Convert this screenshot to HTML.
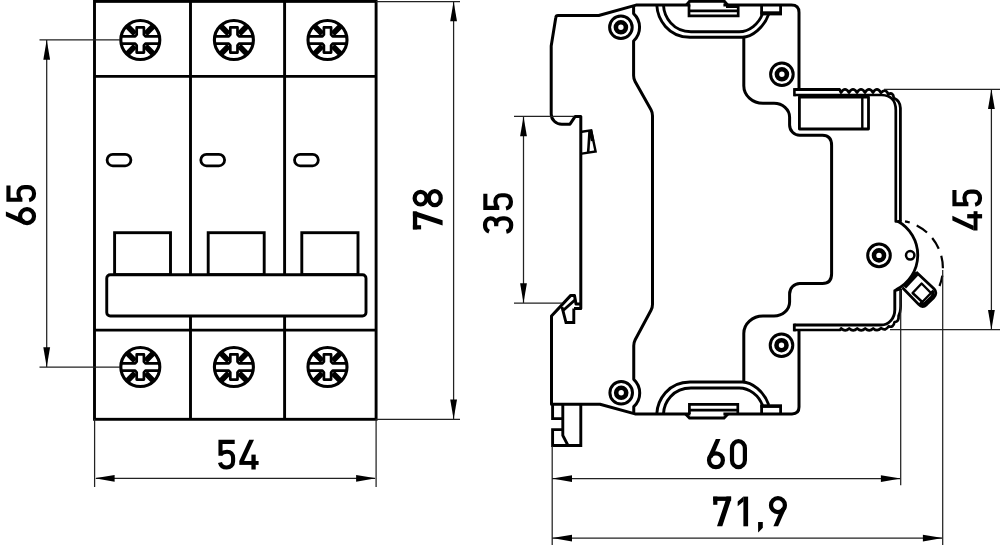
<!DOCTYPE html>
<html><head><meta charset="utf-8">
<style>
html,body{margin:0;padding:0;background:#fff;}
body{width:1000px;height:545px;overflow:hidden;}
svg{display:block;}
text{font-family:"Liberation Sans",sans-serif;font-size:41.6px;fill:#000;stroke:#000;stroke-width:0.9;stroke-linejoin:round;text-rendering:geometricPrecision;text-anchor:middle;}
svg{will-change:transform;}
</style></head><body>
<svg width="1000" height="545" viewBox="0 0 1000 545">
<rect width="1000" height="545" fill="#fff"/>
<defs>
<g id="screw" fill="none" stroke="#000">
<circle r="19.5" stroke-width="3.1"/>
<path d="M-19,-3.7H-5.1L-3.6,-5.3V-12.6H3.6V-5.3L5.1,-3.7H19 M-19,3.7H-5.1L-3.6,5.3V12.6H3.6V5.3L5.1,3.7H19" stroke-width="2.7" stroke-linejoin="round"/>
<path d="M-5.2,-6L-13.6,-14.4 M5.2,-6L13.6,-14.4 M-5.2,6L-13.6,14.4 M5.2,6L13.6,14.4" stroke-width="5.6"/>
</g>
<g id="bolt" fill="none" stroke="#000">
<circle r="11.3" stroke-width="3"/>
<circle r="5" stroke-width="4.6"/>
</g>
<path id="arr" d="M0,0L-3.4,19.8H3.4Z" fill="#000" stroke="none"/>

<!-- DIN-like digits: origin = ink left / baseline, y up negative -->
<g id="d0" fill="none" stroke="#000" stroke-width="4.2"><rect x="2.1" y="-28.1" width="12.9" height="26" rx="6.45" ry="6.9"/></g>
<g id="d6"><circle cx="9.05" cy="-9.05" r="6.95" fill="none" stroke="#000" stroke-width="4.2"/><path d="M8.9,-30.2H13.6L5.6,-11.6L0.8,-12Z" fill="#000"/></g>
<g id="d9"><use href="#d6" transform="translate(18.1,-30.2) rotate(180)"/></g>
<g id="d5" fill="none" stroke="#000" stroke-width="4.1" stroke-linejoin="miter"><path d="M16.7,-27.65H2.5V-13.7"/><path d="M2.6,-15.4C4.4,-17 6.8,-17.7 9,-17.7C12.8,-17.7 15.1,-15.2 15.1,-11.4V-8.2C15.1,-4.6 12.6,-2.05 8.7,-2.05C5.2,-2.05 2.7,-3.8 2,-7"/></g>
<g id="d4" fill="#000"><path d="M9.9,-29.7H14.7L4.8,-8.4H0Z"/><rect x="0" y="-8.5" width="19.3" height="3.9"/><rect x="12.1" y="-14.9" width="4.3" height="14.9"/></g>
<g id="d7" fill="#000"><rect x="0" y="-29.7" width="17.9" height="4.3"/><rect x="0" y="-29.7" width="4.2" height="8.2"/><path d="M13.2,-29.7H17.9V-26.8L9.1,0H3.8L12.7,-26.5Z"/></g>
<g id="d1" fill="#000"><rect x="5.7" y="-29.7" width="4.7" height="29.7"/><path d="M0,-24.9L5.8,-29.7V-24.9L0,-20Z"/></g>
<g id="d8" fill="none" stroke="#000" stroke-width="4.2"><ellipse cx="9.05" cy="-22.2" rx="6.35" ry="5.95"/><ellipse cx="9.05" cy="-8" rx="6.95" ry="5.95"/></g>
<g id="d3" fill="none" stroke="#000" stroke-width="4.2"><path d="M2,-24.2C3,-26.9 5.6,-28.3 8.6,-28.3C12.5,-28.3 15.2,-26 15.2,-22.8C15.2,-19.5 12.8,-17.1 9.5,-17.1H7.4M9.5,-17.1C13,-17.1 15.2,-14.4 15.2,-10.4V-8.8C15.2,-4.8 12.6,-2.1 8.6,-2.1C5.2,-2.1 2.6,-3.8 1.9,-7"/></g>
<g id="dc" fill="#000"><path d="M0,-4.2H4.7V1.5L0.4,6H0Z"/></g>
</defs>

<!-- LEFT VIEW -->
<g fill="none" stroke="#000" stroke-width="2.9" stroke-linejoin="miter">
<rect x="94.5" y="1.4" width="281.6" height="417.9"/>
<path d="M94.5,76.4H376 M94.5,330.1H376"/>
<path d="M190.5,1.4V274.7 M284.6,1.4V274.7 M190.5,316V419.3 M284.6,316V419.3"/>
<rect x="114.6" y="232.7" width="55.9" height="42"/>
<rect x="208.2" y="232.7" width="56" height="42"/>
<rect x="301.8" y="232.7" width="56.2" height="42"/>
<rect x="106.75" y="274.75" width="259.25" height="41.3" rx="3.5" fill="#fff"/>
<rect x="107.1" y="154.4" width="23.8" height="11.4" rx="5.7" stroke-width="2.8"/>
<rect x="200.8" y="154.4" width="23.8" height="11.4" rx="5.7" stroke-width="2.8"/>
<rect x="294.5" y="154.4" width="23.8" height="11.4" rx="5.7" stroke-width="2.8"/>
</g>
<use href="#screw" x="140.3" y="40"/>
<use href="#screw" x="233.9" y="40"/>
<use href="#screw" x="327.5" y="40"/>
<use href="#screw" x="140.3" y="367"/>
<use href="#screw" x="233.9" y="367"/>
<use href="#screw" x="327.5" y="367"/>

<!-- left dims -->
<g fill="none" stroke="#222" stroke-width="1.25">
<path d="M39.5,39.9H120 M39.5,367H120 M46.7,40V367"/>
<path d="M376,1.5H460 M376,419.3H460 M453.6,2V419"/>
<path d="M94.6,419V487 M376.1,419V487 M96,478.3H375"/>
</g>
<use href="#arr" x="46.7" y="40"/>
<use href="#arr" transform="translate(46.7,367) rotate(180)"/>
<use href="#arr" x="453.6" y="1.5"/>
<use href="#arr" transform="translate(453.6,419.3) rotate(180)"/>
<use href="#arr" transform="translate(94.8,478.3) rotate(-90)"/>
<use href="#arr" transform="translate(375.9,478.3) rotate(90)"/>


<!-- RIGHT VIEW -->
<g id="rv" fill="none" stroke="#000" stroke-width="3" stroke-linejoin="round" stroke-linecap="butt">
<!-- outer body -->
<path d="M799,90V12.6Q799,5.1 791.4,5.1H636L598.75,15.5H558Q556,15.5 555.8,17.5L551.2,46V114A10.6,10.2 0 0 0 561.8,124.2H570L575.2,116.4H580.8V308.6H574"/>
<path d="M580,304H576L574.5,295.4H570.8L551.5,316V404.2H600L635,413.9H792Q799,413.9 799,407V330"/>
<!-- inner left contour -->
<path d="M633.6,5V13.6A18.7,18.7 0 0 1 633.6,41V75.5Q633.6,78.75 635.1,81.5L651,109.8Q652.5,112.5 652.5,115.8V304.2Q652.5,307.5 651,310.3L635.2,339.8Q633.75,342.5 633.75,345.8V379.3A18.7,18.7 0 0 1 633.75,406.7V413.7"/>
<!-- inner right contour -->
<path d="M743.8,37.5V85.6A19.2,17.6 0 0 0 763,103.3H774A15.6,14 0 0 1 789.6,117.3V125A10.1,10.3 0 0 0 799.7,135.3H822.5Q831.6,135.3 831.6,145.5V273.8Q831.6,283.5 822.5,283.5H799.7A10.1,10.5 0 0 0 789.6,294V302A15.6,14 0 0 1 774,316H763A19.2,17.4 0 0 0 743.8,333.4V382"/>
</g>

<g fill="none" stroke="#000" stroke-width="2.9" stroke-linejoin="round">
<!-- top U -->
<path d="M656.8,5.3C657.5,19 668,37.3 690,37.3H742.4C752,37.3 764,27.5 768.8,14"/>
<path d="M663.5,5.3C664,17 673,31.7 691,31.7H739.2C749,31.7 759,24 762.6,13.4"/>
<!-- bottom U -->
<path d="M656.8,413.7C657.5,400 668,382 690,382H742.4C752,382 764,391.5 768.8,405"/>
<path d="M663.5,413.7C664,402 673,388 691,388H739.2C749,388 759,395 762.6,405.8"/>
</g>
<g fill="none" stroke="#000" stroke-width="2.6" stroke-linejoin="miter">
<!-- small rects -->
<path d="M761.6,5.2V13.2H780.6V5.2" stroke-width="2.8"/>
<path d="M760.4,13.4H782" stroke-width="4"/>
<path d="M761.6,414V406.4H780.6V414" stroke-width="2.8"/>
<path d="M760.4,406H782" stroke-width="3.4"/>
<!-- top clip -->
<rect x="690.4" y="2.4" width="33" height="7" fill="#fff" stroke="none"/>
<path d="M689,5.2V15.8H738.2V5.2 M689,10.8H738.2" stroke-width="2.7"/>
<path d="M726,6.8H738.2" stroke-width="2.4"/>
<path d="M686.3,5.2L689.7,1.2H724.2L727.8,5.2" stroke-width="3"/>
<!-- bottom clip -->
<rect x="690.4" y="410" width="33" height="6.6" fill="#fff" stroke="none"/>
<path d="M689.4,414V404.4H737.8V414 M689.4,410.2H737.8" stroke-width="2.7"/>
<path d="M685.6,414L689.5,418H724L727.9,414" stroke-width="3"/>
</g>
<use href="#bolt" x="620.9" y="27.3"/>
<use href="#bolt" x="781.9" y="74.3"/>
<use href="#bolt" x="879" y="255.4"/>
<use href="#bolt" x="781.5" y="345.2"/>
<use href="#bolt" x="621.2" y="392.8"/>

<!-- plates -->
<g fill="none" stroke="#000" stroke-width="2.6" stroke-linejoin="round">
<path d="M794.4,88.1V96.3"/>
<path d="M794.4,89.5H839.6l1.4,3 q4,-6.2 8,0 q4,-6.2 8,0 q4,-6.2 8,0 q4,-6.2 8,0 q4,-6.2 8,0.2 q4.4,-5 7.4,1.6 q4.6,-2.6 5.4,3.6 Q900.4,101 900.4,108V221.5" stroke-width="2.8"/>
<path d="M794.4,95H881.7Q895.8,95.5 895.8,110.2V221.5H901.6" stroke-width="2.7"/>
<rect x="799.4" y="97" width="69.1" height="32" stroke-width="2.8"/>
<path d="M862.3,97V129" stroke-width="2.4"/>
<!-- bottom plate -->
<path d="M794.3,323.6V331.4" stroke-width="2.8"/>
<path d="M794.3,325H881C888.8,325 894.8,318.4 894.8,309.7V290.6L901,288.6" stroke-width="2.9"/>
<path d="M794.3,330H840l1.2,-1.6 q4,3.8 8,0 q4,3.8 8,0 q4,3.8 8,0 q4,3.8 8,0 Q877.2,332 881,328.2 Q885.6,331.4 888.6,326.4 Q893.4,328 894.6,322 Q899,322 898.6,316 L900,312 Q900.6,309.5 900.6,306V289" stroke-width="2.7"/>
</g>
<!-- handle region -->
<g fill="none" stroke="#000" stroke-linejoin="round">
<path d="M897.3,221A38.6,38.6 0 0 1 896,289.8" stroke-width="2.8"/>
<circle cx="910.2" cy="255.3" r="4.2" stroke-width="2.5"/>
<path d="M905,221.3A48,48 0 0 1 939.5,286" stroke-width="2.2" stroke-dasharray="12.5,7.5" stroke-dashoffset="7.5"/>
<path d="M902.3,287.5L918.6,304.4Q922.5,308.4 926.6,304.6L933.4,298Q938,293.2 934,288.8L916.1,271.9" stroke-width="2.8"/>
<path d="M919.6,302.6Q922.5,305.4 925.4,302.8L931.4,297Q934.4,293.6 931.8,290.6" stroke-width="3"/>
<path d="M904.4,287L917,273.4" stroke-width="4.6"/>
<path d="M921.6,283.5L931,293L922.3,302L912.6,293Z" stroke-width="2.4"/>
</g>
<!-- DIN clips -->
<g fill="none" stroke="#000" stroke-width="2.9" stroke-linejoin="miter">
<path d="M581.8,131.8L591.2,130.4L595.6,151.4L581.8,153.6" stroke-width="2.4"/>
<path d="M589.6,130.8L588.2,152.2" stroke-width="2.6"/>
<path d="M590.4,130.4L592.6,141" stroke-width="3.6"/>
<path d="M562,307L566,322.5H573.8V308.6"/>
<path d="M562.5,311L575.5,299.5"/>
<path d="M552.6,404.2V418.6H562.8 M562.8,404.2V435.5L568,445.5 M562.8,429.6H552.6V445.5H580.8V404.2"/>
</g>
<!-- right dims -->
<g fill="none" stroke="#222" stroke-width="1.25">
<path d="M514,116.4H574 M514,303H562 M523.5,117V302.5"/>
<path d="M884,89.3H1000 M890,329.7H1000 M991.4,90V329"/>
<path d="M552.2,446V545 M900.7,290V485.3 M942.7,270V545"/>
<path d="M552,478.6H900 M552,538.1H942"/>
</g>
<use href="#arr" x="523.5" y="116.4"/>
<use href="#arr" transform="translate(523.5,303) rotate(180)"/>
<use href="#arr" x="991.4" y="89.3"/>
<use href="#arr" transform="translate(991.4,329.7) rotate(180)"/>
<use href="#arr" transform="translate(552.2,478.6) rotate(-90)"/>
<use href="#arr" transform="translate(900.7,478.6) rotate(90)"/>
<use href="#arr" transform="translate(552.2,538.1) rotate(-90)"/>
<use href="#arr" transform="translate(942.7,538.1) rotate(90)"/>

<!-- labels -->
<use href="#d6" transform="translate(706.9,469.3)"/><use href="#d0" transform="translate(729.9,469.3)"/>
<use href="#d7" transform="translate(713.2,526.3)"/><use href="#d1" transform="translate(737.7,526.3)"/><use href="#dc" transform="translate(758.1,526.3)"/><use href="#d9" transform="translate(768.9,526.3)"/>
<use href="#d5" transform="translate(218,469.5)"/><use href="#d4" transform="translate(239.3,469.5)"/>
<use href="#d6" transform="translate(36.1,225.2) rotate(-90)"/><use href="#d5" transform="translate(36.1,202.2) rotate(-90)"/>
<use href="#d7" transform="translate(442.6,229.4) rotate(-90)"/><use href="#d8" transform="translate(442.8,207.2) rotate(-90)"/>
<use href="#d3" transform="translate(513.3,233.6) rotate(-90)"/><use href="#d5" transform="translate(513,210.4) rotate(-90)"/>
<use href="#d4" transform="translate(982.1,230.5) rotate(-90)"/><use href="#d5" transform="translate(982.1,206.7) rotate(-90)"/>
</svg>
</body></html>
